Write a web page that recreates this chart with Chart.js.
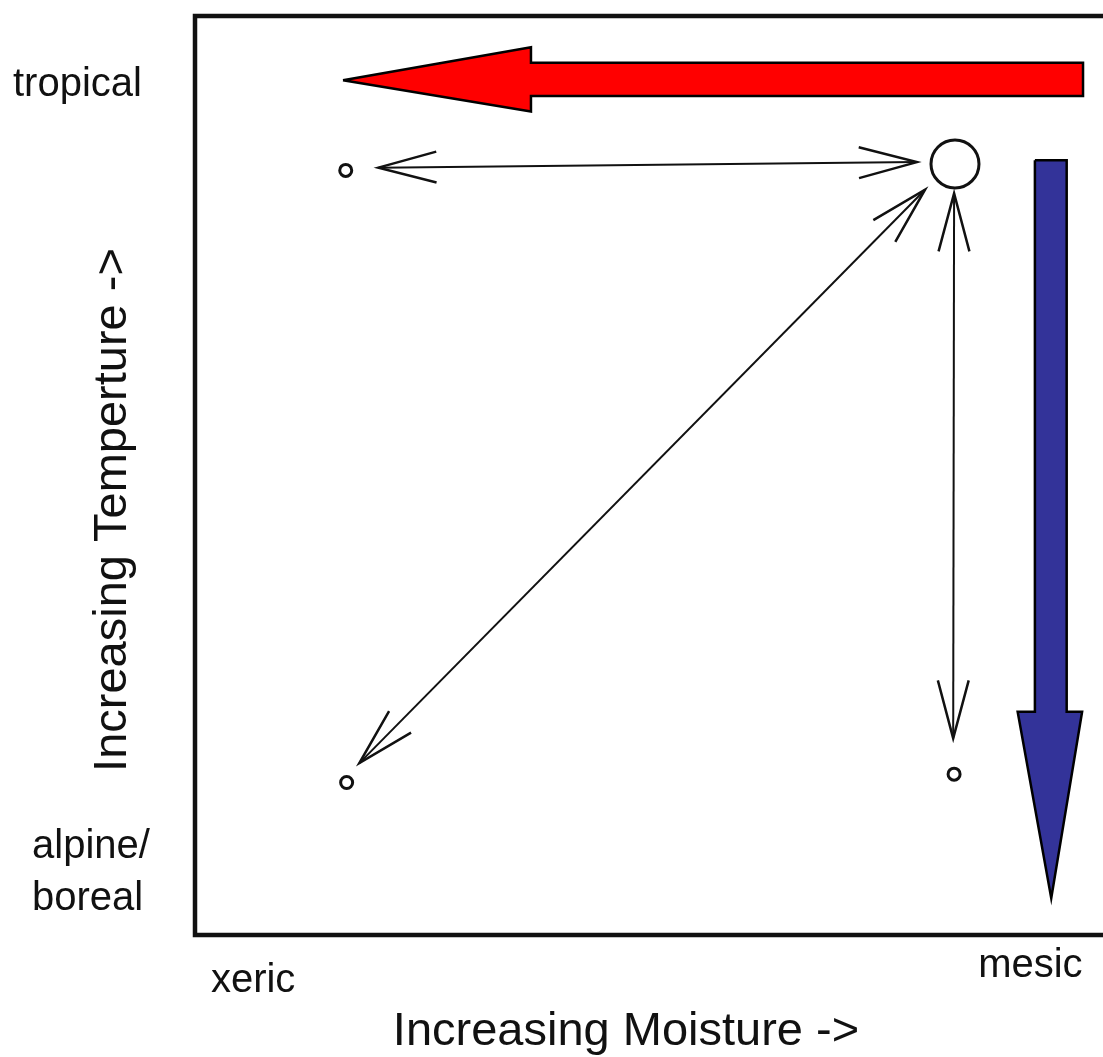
<!DOCTYPE html>
<html>
<head>
<meta charset="utf-8">
<script src="https://cdn.jsdelivr.net/npm/chart.js@4/dist/chart.umd.min.js"></script>
<style>
  body { margin: 0; background: #fff; overflow: hidden; }
</style>
</head>
<body>
<canvas id="climateChart" width="1103" height="1057"></canvas>
<script>
// Sites (small circles and the big one), in % of moisture / temperature
const siteX = [16.6, 83.7, 16.7, 83.6];
const siteY = [83.2, 83.9, 16.6, 17.5];
const siteRadius = [6, 24, 6, 6];

// Double headed thin arrows between the sites
const moistArrowX = [20.2, 79.5];
const moistArrowY = [83.5, 84.1];
const diagArrowX = [80.4, 18.1];
const diagArrowY = [81.1, 18.7];
const tempArrowX = [83.6, 83.5];
const tempArrowY = [80.7, 21.4];

// Big red arrow (toward drier)
const redArrowX = [16.3, 37.0, 37.0, 97.8, 97.8, 37.0, 37.0, 16.3];
const redArrowY = [93.0, 96.6, 94.9, 94.9, 91.3, 91.3, 89.6, 93.0];

// Big blue arrow (toward colder)
const blueArrowX = [92.5, 96.0, 96.0, 97.7, 94.3, 90.6, 92.5, 92.5];
const blueArrowY = [84.3, 84.3, 24.3, 24.3, 4.0, 24.3, 24.3, 84.3];

// Axis end labels
const xTickLabels = ["xeric", "mesic"];
const xTickValues = [6.4, 92.0];
const yTickLabels = [["tropical"], ["alpine/", "boreal"]];
const yTickValues = [92.5, 6.8];

const toPoints = (xs, ys) => xs.map((x, i) => ({ x: x, y: ys[i] }));

const FONT = '"Liberation Sans", Arial, sans-serif';

// Draws the frame, the open arrow heads and all the texts
const decorations = {
  id: 'decorations',
  beforeDatasetsDraw(chart) {
    const ctx = chart.ctx;
    const a = chart.chartArea;
    ctx.save();
    ctx.strokeStyle = '#111';
    ctx.lineWidth = 4.5;
    ctx.beginPath();
    ctx.moveTo(a.right + 5, a.top);
    ctx.lineTo(a.left, a.top);
    ctx.lineTo(a.left, a.bottom);
    ctx.lineTo(a.right + 5, a.bottom);
    ctx.stroke();
    ctx.restore();
  },
  afterDatasetsDraw(chart) {
    const ctx = chart.ctx;
    const xs = chart.scales.x;
    const ys = chart.scales.y;

    // open "V" heads at both ends of the thin arrows
    chart.data.datasets.forEach((ds, i) => {
      if (!ds.doubleHead) return;
      const pts = chart.getDatasetMeta(i).data;
      const ends = [[pts[0], pts[1]], [pts[1], pts[0]]];
      ctx.save();
      ctx.strokeStyle = '#111';
      ctx.lineWidth = 2.5;
      ends.forEach(([tip, from]) => {
        const ang = Math.atan2(from.y - tip.y, from.x - tip.x);
        const len = 60, spread = 0.26;
        ctx.beginPath();
        ctx.moveTo(tip.x + len * Math.cos(ang - spread), tip.y + len * Math.sin(ang - spread));
        ctx.lineTo(tip.x, tip.y);
        ctx.lineTo(tip.x + len * Math.cos(ang + spread), tip.y + len * Math.sin(ang + spread));
        ctx.stroke();
      });
      ctx.restore();
    });

    ctx.save();
    ctx.fillStyle = '#111';
    ctx.font = '40px ' + FONT;

    // xeric / mesic
    ctx.textAlign = 'center';
    ctx.textBaseline = 'alphabetic';
    const xBase = [992, 977];
    xTickLabels.forEach((t, i) => {
      ctx.fillText(t, xs.getPixelForValue(xTickValues[i]), xBase[i]);
    });

    // tropical / alpine-boreal
    ctx.textAlign = 'left';
    ctx.textBaseline = 'middle';
    const yLeft = [13, 32];
    yTickLabels.forEach((lines, i) => {
      const cy = ys.getPixelForValue(yTickValues[i]);
      const step = 52;
      lines.forEach((line, k) => {
        ctx.fillText(line, yLeft[i], cy + (k - (lines.length - 1) / 2) * step);
      });
    });

    // axis titles
    ctx.font = '47px ' + FONT;
    ctx.textAlign = 'center';
    ctx.textBaseline = 'alphabetic';
    ctx.fillText('Increasing Moisture ->', 626, 1045);

    ctx.translate(113, 510);
    ctx.rotate(-Math.PI / 2);
    ctx.textBaseline = 'middle';
    ctx.fillText('Increasing Temperture ->', 0, 0);
    ctx.restore();
  }
};

const arrowLine = (xs, ys) => ({
  data: toPoints(xs, ys),
  showLine: true,
  borderColor: '#111',
  borderWidth: 2,
  pointRadius: 0,
  tension: 0,
  fill: false,
  doubleHead: true
});

const bigArrow = (xs, ys, color) => ({
  data: toPoints(xs, ys),
  showLine: true,
  borderColor: '#000',
  borderWidth: 2.5,
  backgroundColor: color,
  pointRadius: 0,
  tension: 0,
  fill: 'shape',
  order: 5
});

new Chart(document.getElementById('climateChart'), {
  type: 'scatter',
  data: {
    datasets: [
      {
        data: toPoints(siteX, siteY),
        pointRadius: siteRadius,
        pointBorderWidth: 3,
        pointBorderColor: '#111',
        pointBackgroundColor: '#fff',
        showLine: false,
        order: 0
      },
      arrowLine(moistArrowX, moistArrowY),
      arrowLine(diagArrowX, diagArrowY),
      arrowLine(tempArrowX, tempArrowY),
      bigArrow(redArrowX, redArrowY, '#ff0000'),
      bigArrow(blueArrowX, blueArrowY, '#333399')
    ]
  },
  options: {
    responsive: false,
    animation: false,
    events: [],
    layout: { autoPadding: false, padding: { left: 195, top: 16, right: 0, bottom: 122 } },
    scales: {
      x: { type: 'linear', min: 0, max: 100, display: false },
      y: { type: 'linear', min: 0, max: 100, display: false }
    },
    plugins: {
      legend: { display: false },
      tooltip: { enabled: false }
    }
  },
  plugins: [decorations]
});
</script>
</body>
</html>
